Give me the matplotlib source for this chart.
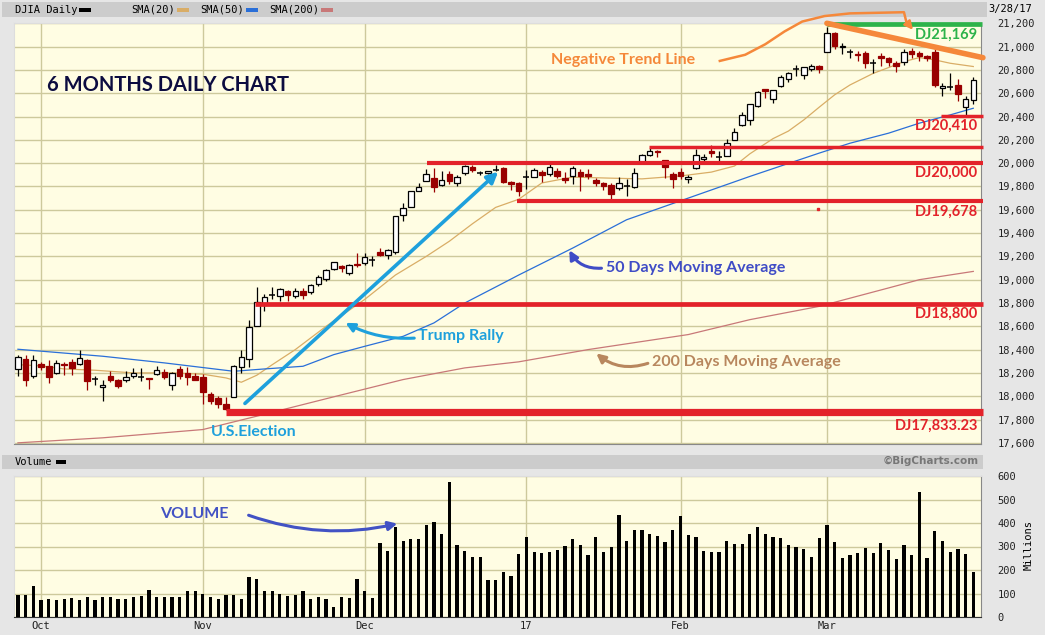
import matplotlib
matplotlib.use("Agg")
import matplotlib.pyplot as plt
from matplotlib.patches import Rectangle
import numpy as np

# ---- data (trading day index 0 = 9/28/16) ----
opens = [18234, 18323, 18177, 18280, 18263, 18200, 18280, 18297, 18280, 18309,
         18140, 18080, 18177, 18137, 18140, 18177, 18160, 18157, 18194, 18210,
         18100, 18234, 18200, 18170, 18166, 18023, 17988, 17929, 17994, 18251,
         18317, 18603, 18800, 18870, 18858, 18900, 18860, 18905, 18891, 18963,
         19006, 19093, 19120, 19060, 19137, 19143, 19168, 19240, 19215, 19234,
         19551, 19623, 19765, 19843, 19871, 19814, 19909, 19831, 19914, 19970,
         19918, 19917, 19944, 19957, 19834, 19829, 19880, 19885, 19925, 19910,
         19931, 19876, 19887, 19926, 19905, 19851, 19830, 19814, 19790, 19800,
         19794, 20014, 20070, 20100, 20023, 19909, 19923, 19860, 19957, 20035,
         20100, 20054, 20063, 20200, 20329, 20371, 20491, 20634, 20549, 20663,
         20720, 20814, 20757, 20809, 20830, 20957, 21120, 21000, 20957, 20937,
         20943, 20857, 20920, 20900, 20863, 20871, 20960, 20945, 20915, 20957,
         20643, 20656, 20671, 20480, 20543]
highs = [18357, 18357, 18357, 18290, 18314, 18314, 18297, 18320, 18400, 18320,
         18177, 18137, 18220, 18150, 18220, 18240, 18240, 18160, 18260, 18230,
         18210, 18257, 18250, 18200, 18190, 18040, 18000, 17990, 18264, 18400,
         18650, 18934, 18875, 18934, 18925, 18915, 18930, 18930, 18960, 19043,
         19090, 19153, 19130, 19135, 19225, 19225, 19200, 19270, 19260, 19550,
         19660, 19757, 19830, 19953, 19960, 19930, 19935, 19900, 19987, 19980,
         19930, 19935, 19980, 19965, 19850, 19840, 19939, 19960, 19940, 19999,
         19960, 19925, 19974, 19950, 19950, 19870, 19840, 19830, 19880, 19860,
         19960, 20080, 20130, 20110, 20030, 19920, 19960, 19900, 20125, 20080,
         20155, 20100, 20206, 20298, 20441, 20504, 20620, 20640, 20625, 20757,
         20780, 20840, 20825, 20850, 20840, 21169, 21125, 21030, 20980, 20960,
         20960, 20890, 20943, 20910, 20880, 20980, 20990, 20960, 20930, 20990,
         20686, 20770, 20720, 20580, 20740]
lows = [18177, 18085, 18160, 18222, 18117, 18190, 18185, 18180, 18270, 18051,
        18100, 17957, 18120, 18070, 18120, 18160, 18130, 18060, 18185, 18150,
        18057, 18150, 18100, 18140, 17937, 17930, 17900, 17883, 17994, 18200,
        18251, 18603, 18728, 18830, 18820, 18820, 18840, 18830, 18880, 18950,
        18990, 19085, 19070, 19040, 19110, 19130, 19120, 19200, 19180, 19220,
        19500, 19623, 19760, 19843, 19749, 19800, 19818, 19800, 19900, 19920,
        19900, 19905, 19935, 19830, 19770, 19718, 19775, 19880, 19834, 19890,
        19870, 19830, 19820, 19765, 19860, 19800, 19770, 19686, 19770, 19720,
        19790, 20010, 20060, 20050, 19870, 19790, 19860, 19830, 19950, 19990,
        20050, 20020, 20060, 20195, 20320, 20330, 20480, 20560, 20520, 20650,
        20700, 20745, 20720, 20790, 20770, 20957, 20980, 20940, 20900, 20880,
        20820, 20771, 20830, 20830, 20780, 20840, 20900, 20880, 20880, 20650,
        20580, 20630, 20530, 20412, 20510]
closes = [18339, 18143, 18308, 18254, 18168, 18281, 18268, 18240, 18329, 18129,
          18144, 18099, 18138, 18086, 18162, 18203, 18162, 18146, 18223, 18169,
          18199, 18170, 18161, 18142, 18037, 17960, 17931, 17888, 18260, 18333,
          18590, 18808, 18848, 18869, 18923, 18868, 18904, 18868, 18957, 19024,
          19083, 19152, 19098, 19122, 19124, 19192, 19170, 19216, 19252, 19550,
          19615, 19757, 19796, 19911, 19793, 19852, 19843, 19883, 19975, 19942,
          19919, 19934, 19945, 19834, 19820, 19763, 19882, 19942, 19899, 19964,
          19887, 19856, 19954, 19891, 19886, 19827, 19805, 19732, 19827, 19800,
          19913, 20069, 20101, 20094, 19971, 19864, 19891, 19885, 20071, 20052,
          20090, 20054, 20172, 20269, 20412, 20504, 20612, 20620, 20624, 20743,
          20776, 20810, 20822, 20837, 20812, 21116, 21003, 21006, 20954, 20925,
          20856, 20858, 20903, 20868, 20837, 20950, 20935, 20915, 20906, 20668,
          20661, 20657, 20597, 20551, 20715]
volume = [95, 95, 133, 71, 78, 74, 78, 81, 71, 85, 71, 84, 86, 75, 75, 86, 88, 116,
          84, 84, 86, 84, 109, 109, 99, 86, 78, 95, 92, 78, 172, 163, 109, 112, 99,
          88, 92, 109, 78, 86, 78, 44, 86, 82, 163, 109, 82, 315, 282, 384, 325, 333,
          333, 390, 406, 355, 573, 305, 282, 257, 257, 159, 159, 190, 173,
          269, 339, 278, 271, 278, 286, 301, 333, 305, 262, 342, 278, 299, 435, 325,
          372, 372, 355, 343, 318, 372, 428, 347, 342, 282, 278, 278, 325, 312, 312,
          355, 384, 355, 342, 337, 308, 299, 291, 257, 337, 393, 320, 252, 265, 274,
          295, 274, 316, 286, 248, 308, 265, 533, 252, 367, 325, 278, 291, 269, 193]

sma20_idx = [0, 3, 6, 10, 15, 20, 24, 27, 29, 31, 33, 36, 40, 45, 49, 53, 56, 59, 62, 65,
             68, 72, 77, 81, 86, 90, 93, 95, 98, 100, 102, 104, 106, 108, 111, 113, 115,
             117, 119, 121, 124]
sma20_val = [18271, 18260, 18234, 18223, 18200, 18200, 18189, 18157, 18120, 18180, 18270,
             18400, 18600, 18830, 19040, 19200, 19330, 19480, 19620, 19690, 19830, 19880,
             19871, 19865, 19890, 19923, 19975, 20080, 20210, 20275, 20371, 20480, 20586,
             20671, 20770, 20820, 20871, 20906, 20886, 20857, 20829]
sma50_idx = [0, 11, 19, 28, 32, 37, 41, 45, 50, 54, 58, 63, 65, 72, 79, 87, 95, 104, 108,
             113, 117, 121, 124]
sma50_val = [18403, 18343, 18286, 18214, 18234, 18257, 18357, 18428, 18514, 18629, 18800,
             18971, 19040, 19271, 19514, 19700, 19886, 20086, 20171, 20257, 20343, 20414,
             20471]
sma200_idx = [0, 11, 24, 32, 41, 50, 58, 65, 74, 87, 95, 104, 113, 117, 124]
sma200_val = [17600, 17643, 17714, 17845, 17995, 18143, 18243, 18295, 18400, 18529, 18657,
              18771, 18929, 19000, 19071]

month_pos = [3, 24, 45, 66, 86, 105]
month_labels = ["Oct", "Nov", "Dec", "17", "Feb", "Mar"]

# support / resistance lines: (level, start index, width, label, label y)
levels = [(17862, 27, 5.2, "DJ17,833.23", 17748),
          (18794, 30.8, 3.4, "DJ18,800", 18709),
          (19671, 64.8, 3.0, "DJ19,678", 19583),
          (20003, 53.1, 3.0, "DJ20,000", 19917),
          (20142, 81.9, 2.5, None, None),
          (20405, 119.8, 2.5, "DJ20,410", 20320)]

# ---- styles ----
CREAM = "#fffde3"
GRID = "#cdc99c"
RED = "#e3222a"
DKRED = "#990000"
MONO = "DejaVu Sans Mono"
ANN = ["Lato", "DejaVu Sans"]

fig = plt.figure(figsize=(10.45, 6.35), dpi=100, facecolor="#e6e6e6")
W, H = 1045.0, 635.0

# header strips (kept below the axes)
fig.patches.append(Rectangle((2 / W, 1 - 17 / H), 985 / W, 15 / H, transform=fig.transFigure,
                             facecolor="#cccccc", edgecolor="none", zorder=-1))
fig.patches.append(Rectangle((2 / W, 1 - 469 / H), 981 / W, 14 / H, transform=fig.transFigure,
                             facecolor="#cccccc", edgecolor="none", zorder=-1))

ax = fig.add_axes([14.3 / W, 1 - 444 / H, 966.7 / W, 421.3 / H])
axv = fig.add_axes([14.3 / W, 1 - 617 / H, 966.7 / W, 141 / H])

for a in (ax, axv):
    a.set_facecolor(CREAM)
    a.set_xlim(-0.47, 125.0)
    a.set_xticks(month_pos)
    a.grid(True, color=GRID, lw=1)
    a.set_axisbelow(True)
    a.yaxis.tick_right()
    a.tick_params(length=0, labelsize=7.5, colors="#222222")
    for s in ("top", "left"):
        a.spines[s].set_color("#dddddd")
    for s in ("bottom", "right"):
        a.spines[s].set_color("#888888")

# ---- candles ----
idx = np.arange(len(closes))
o = np.array(opens, float)
c = np.array(closes, float)
hi = np.array(highs, float)
lo = np.array(lows, float)
doji = np.abs(c - o) < 6
up = (c >= o) & ~doji
dn = (c < o) & ~doji

wick_col = np.where(dn, DKRED, "black")
ax.vlines(idx, lo, hi, colors=wick_col, lw=0.9, zorder=3)
ax.bar(idx[up], (c - o)[up], bottom=o[up], width=0.72, facecolor="white",
       edgecolor="black", lw=0.9, zorder=4)
ax.bar(idx[dn], (o - c)[dn], bottom=c[dn], width=0.72, facecolor=DKRED,
       edgecolor=DKRED, lw=0.9, zorder=4)
ax.hlines(c[doji], idx[doji] - 0.38, idx[doji] + 0.38, colors="black", lw=1.1, zorder=4)

# moving averages
ax.plot(sma20_idx, sma20_val, color="#d9ad66", lw=0.9, zorder=2)
ax.plot(sma50_idx, sma50_val, color="#2a6fd8", lw=0.9, zorder=2)
ax.plot(sma200_idx, sma200_val, color="#c87878", lw=0.9, zorder=2)

ax.set_ylim(17590, 21205)
ax.set_yticks(range(17600, 21201, 200))
ax.set_yticklabels([f"{v:,}" for v in range(17600, 21201, 200)], family=MONO)
ax.tick_params(axis="y", pad=12)
ax.set_xticklabels([])

# red levels
for lev, start, lw, lab, ly in levels:
    ax.plot([start, 125.25], [lev, lev], color=RED, lw=lw, solid_capstyle="butt",
            clip_on=False, zorder=5)
    if lab:
        ax.text(124.6, ly, lab, color=RED, fontsize=10.5, fontweight="bold",
                family=ANN, ha="right", va="center", zorder=6)
ax.plot([103.8], [19610], "s", color=RED, ms=2, zorder=5)

# green top line and negative trend line
ax.plot([105, 125.1], [21195, 21195], color="#2db34a", lw=3.4, clip_on=False,
        solid_capstyle="butt", zorder=6)
ax.text(124.6, 21105, "DJ21,169", color="#2db34a", fontsize=10.5, fontweight="bold",
        family=ANN, ha="right", va="center", zorder=7)
ax.plot([105, 125.25], [21200, 20905], color="#f5883a", lw=4, clip_on=False,
        solid_capstyle="round", zorder=6)

# orange curved arrow
ox = [91.1, 94.4, 97.0, 99.5, 101.8, 104.7, 108.0, 111.5, 115.0, 115.3]
oy = [20877, 20930, 21020, 21130, 21215, 21262, 21285, 21290, 21295, 21215]
ax.plot(ox, oy, color="#f5883a", lw=1.8, clip_on=False, zorder=7)
ax.annotate("", xy=(116.4, 21125), xytext=(115.3, 21215),
            arrowprops=dict(arrowstyle="-|>", color="#f5883a", lw=1.8,
                            mutation_scale=12), annotation_clip=False, zorder=7)
ax.text(69.2, 20885, "Negative Trend Line", color="#f5883a", fontsize=11.5,
        fontweight="bold", family=ANN, ha="left", va="center", zorder=7)

# titles and callouts
ax.text(3.8, 20671, "6 MONTHS DAILY CHART", color="#0c0c40", fontsize=14.5,
        fontweight="bold", family=ANN, ha="left", va="center", zorder=7)

LB = "#1ea0dc"
ax.annotate("", xy=(62.6, 19942), xytext=(29.2, 17922),
            arrowprops=dict(arrowstyle="-|>", color=LB, lw=2.6, mutation_scale=16),
            zorder=7)
ax.text(51.9, 18520, "Trump Rally", color=LB, fontsize=11.5, fontweight="bold",
        family=ANN, ha="left", va="center", zorder=7)
ax.annotate("", xy=(42.2, 18641), xytext=(51.8, 18500),
            arrowprops=dict(arrowstyle="-|>", color=LB, lw=2.2, mutation_scale=13,
                            connectionstyle="arc3,rad=-0.15"), zorder=7)
ax.text(25.1, 17697, "U.S.Election", color=LB, fontsize=11.5, fontweight="bold",
        family=ANN, ha="left", va="center", zorder=7)

BLU = "#3f4cc6"
ax.text(76.3, 19103, "50 Days Moving Average", color=BLU, fontsize=11.5,
        fontweight="bold", family=ANN, ha="left", va="center", zorder=7)
ax.annotate("", xy=(71.4, 19274), xytext=(76.1, 19100),
            arrowprops=dict(arrowstyle="-|>", color=BLU, lw=2.2, mutation_scale=13,
                            connectionstyle="arc3,rad=-0.35"), zorder=7)

BRN = "#b8875e"
ax.text(82.3, 18297, "200 Days Moving Average", color=BRN, fontsize=11.5,
        fontweight="bold", family=ANN, ha="left", va="center", zorder=7)
ax.annotate("", xy=(74.8, 18383), xytext=(82.1, 18290),
            arrowprops=dict(arrowstyle="-|>", color=BRN, lw=2.2, mutation_scale=13,
                            connectionstyle="arc3,rad=-0.3"), zorder=7)

# ---- volume ----
axv.bar(idx, volume, width=0.42, color="black", zorder=3)
axv.set_ylim(0, 600)
axv.set_yticks(range(0, 601, 100))
axv.set_yticklabels([str(v) for v in range(0, 601, 100)], family=MONO)
axv.tick_params(axis="y", pad=12)
axv.set_xticklabels(month_labels, family=MONO)
axv.tick_params(axis="x", pad=3)
axv.spines["bottom"].set_color("#333333")
axv.text(18.4, 437, "VOLUME", color="#4252c4", fontsize=11.5, fontweight="bold",
         family=ANN, ha="left", va="center", zorder=7)
axv.annotate("", xy=(49.6, 400), xytext=(29.6, 437),
             arrowprops=dict(arrowstyle="-|>", color="#4252c4", lw=2.2,
                             mutation_scale=13, connectionstyle="arc3,rad=0.15"),
             zorder=7)

# ---- header texts ----
fig.text(15 / W, 1 - 10 / H, "DJIA Daily", family=MONO, fontsize=7.5, va="center")
fig.text(131 / W, 1 - 10 / H, "SMA(20)", family=MONO, fontsize=7.5, va="center")
fig.text(200 / W, 1 - 10 / H, "SMA(50)", family=MONO, fontsize=7.5, va="center")
fig.text(269 / W, 1 - 10 / H, "SMA(200)", family=MONO, fontsize=7.5, va="center")
for x0, col in [(79, "black"), (177, "#d9ad66"), (246, "#2a6fd8"), (321, "#c87878")]:
    fig.patches.append(Rectangle((x0 / W, 1 - 12 / H), 12 / W, 4 / H,
                                 transform=fig.transFigure, facecolor=col, edgecolor="none"))
fig.text(1032 / W, 1 - 9 / H, "3/28/17", family=MONO, fontsize=7.5, va="center", ha="right")
fig.text(15 / W, 1 - 462 / H, "Volume", family=MONO, fontsize=7.5, va="center")
fig.patches.append(Rectangle((56 / W, 1 - 464 / H), 10 / W, 4 / H,
                             transform=fig.transFigure, facecolor="black", edgecolor="none"))
fig.text(979 / W, 1 - 461 / H, "\u00a9BigCharts.com", family="DejaVu Sans", fontsize=7.5,
         fontweight="bold", color="#777777", va="center", ha="right")
fig.text(1029 / W, 1 - 545 / H, "Millions", family=MONO, fontsize=7.5, rotation=90,
         va="center", ha="center")

fig.savefig("out.png", dpi=100, facecolor=fig.get_facecolor())
